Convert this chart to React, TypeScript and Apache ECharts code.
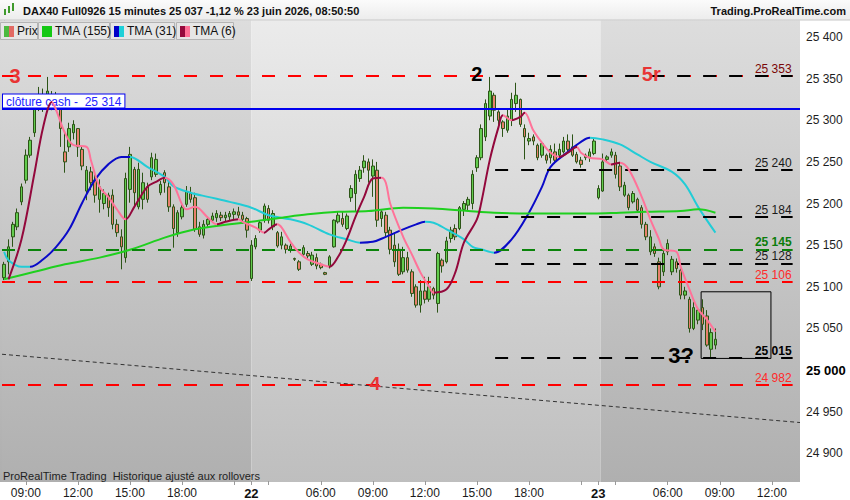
import React, { useEffect, useRef } from "react";
import * as echarts from "echarts";

const FONT = "Liberation Sans, Arial, Helvetica, sans-serif";

// trading sessions (15 minute bars)
const sessions = [
  { day: "19", start: "07:45", bars: 57 },
  { day: "22", start: "02:00", bars: 80 },
  { day: "23", start: "02:00", bars: 47 },
];
const labelTimes = ["09:00", "12:00", "15:00", "18:00", "06:00"];
const tickTimes = ["03:00", "06:00", "09:00", "12:00", "15:00", "18:00", "21:00"];

// [open, high, low, close]
const day19Candles = [
  [25111, 25130, 25108, 25127], [25130, 25157, 25115, 25148], [25160, 25178, 25148, 25175],
  [25172, 25194, 25168, 25189], [25202, 25224, 25198, 25220], [25228, 25265, 25224, 25258],
  [25258, 25280, 25255, 25276], [25285, 25324, 25280, 25318], [25315, 25340, 25311, 25330],
  [25330, 25338, 25310, 25318], [25318, 25352, 25315, 25335], [25330, 25335, 25312, 25318],
  [25318, 25334, 25312, 25328], [25320, 25325, 25268, 25290], [25262, 25285, 25237, 25250],
  [25268, 25297, 25262, 25290], [25285, 25300, 25277, 25295], [25290, 25290, 25256, 25268],
  [25265, 25268, 25240, 25245], [25215, 25245, 25204, 25240], [25238, 25244, 25216, 25225],
  [25228, 25237, 25201, 25210], [25205, 25229, 25189, 25220], [25200, 25217, 25193, 25212],
  [25210, 25213, 25184, 25195], [25210, 25217, 25169, 25175], [25175, 25181, 25160, 25165],
  [25160, 25169, 25121, 25148], [25135, 25237, 25129, 25230], [25217, 25268, 25201, 25259],
  [25241, 25244, 25196, 25213], [25196, 25249, 25193, 25241], [25205, 25237, 25193, 25225],
  [25220, 25225, 25201, 25205], [25232, 25261, 25228, 25255], [25235, 25260, 25232, 25253],
  [25213, 25227, 25210, 25223], [25237, 25240, 25213, 25225], [25220, 25228, 25190, 25196],
  [25196, 25199, 25147, 25170], [25165, 25192, 25160, 25189], [25184, 25198, 25181, 25195],
  [25199, 25221, 25196, 25214], [25212, 25220, 25201, 25205], [25207, 25213, 25166, 25169],
  [25172, 25178, 25160, 25163], [25162, 25180, 25158, 25175], [25175, 25184, 25172, 25181],
  [25180, 25189, 25177, 25185], [25183, 25192, 25178, 25188], [25186, 25190, 25179, 25183],
  [25183, 25190, 25179, 25186], [25184, 25191, 25180, 25188], [25187, 25194, 25180, 25190],
  [25190, 25196, 25182, 25186], [25186, 25190, 25176, 25181], [25182, 25184, 25159, 25168],
];

const day22Candles = [
  [25110, 25156, 25107, 25150], [25148, 25162, 25145, 25158], [25168, 25180, 25165, 25177],
  [25180, 25200, 25177, 25197], [25194, 25198, 25176, 25180], [25172, 25192, 25168, 25188],
  [25165, 25167, 25147, 25149], [25150, 25166, 25145, 25160], [25150, 25152, 25140, 25145],
  [25145, 25152, 25141, 25149], [25134, 25135, 25131, 25133], [25130, 25132, 25119, 25121],
  [25139, 25150, 25137, 25147], [25140, 25143, 25133, 25137], [25127, 25142, 25125, 25138],
  [25135, 25140, 25121, 25125], [25127, 25129, 25121, 25123], [25117, 25118, 25114, 25115],
  [25124, 25138, 25122, 25136], [25148, 25181, 25147, 25180], [25178, 25190, 25176, 25186],
  [25182, 25190, 25172, 25175], [25170, 25188, 25168, 25185], [25207, 25222, 25202, 25218],
  [25212, 25240, 25190, 25235], [25230, 25245, 25226, 25240], [25243, 25258, 25237, 25251],
  [25250, 25254, 25225, 25240], [25233, 25253, 25208, 25245], [25240, 25250, 25172, 25180],
  [25182, 25192, 25172, 25190], [25186, 25190, 25160, 25165], [25168, 25172, 25139, 25145],
  [25150, 25165, 25124, 25130], [25145, 25152, 25113, 25115], [25118, 25148, 25115, 25135],
  [25135, 25142, 25117, 25120], [25118, 25121, 25088, 25092], [25100, 25103, 25075, 25078],
  [25078, 25108, 25069, 25095], [25095, 25112, 25080, 25085], [25085, 25112, 25082, 25100],
  [25098, 25100, 25085, 25090], [25080, 25142, 25069, 25140], [25132, 25134, 25117, 25125],
  [25130, 25160, 25128, 25155], [25158, 25172, 25153, 25168], [25170, 25175, 25156, 25160],
  [25170, 25197, 25168, 25195], [25193, 25203, 25185, 25200], [25198, 25208, 25192, 25205],
  [25200, 25240, 25193, 25235], [25243, 25258, 25238, 25255], [25255, 25295, 25252, 25290],
  [25280, 25325, 25275, 25320], [25305, 25352, 25300, 25335], [25330, 25333, 25298, 25312],
  [25310, 25312, 25292, 25300], [25298, 25300, 25280, 25290], [25288, 25313, 25285, 25305],
  [25300, 25333, 25293, 25325], [25320, 25345, 25310, 25330], [25325, 25326, 25292, 25295],
  [25290, 25295, 25253, 25280], [25275, 25285, 25270, 25278], [25280, 25283, 25270, 25275],
  [25270, 25272, 25252, 25255], [25258, 25275, 25255, 25272], [25258, 25260, 25248, 25252],
  [25255, 25270, 25248, 25265], [25262, 25272, 25248, 25252], [25258, 25272, 25255, 25265],
  [25262, 25280, 25260, 25275], [25275, 25283, 25263, 25265], [25268, 25283, 25256, 25258],
  [25259, 25262, 25248, 25250], [25252, 25256, 25243, 25247], [25255, 25260, 25252, 25258],
  [25255, 25266, 25250, 25262], [25260, 25278, 25258, 25275],
];

const day23Candles = [
  [25207, 25222, 25205, 25218], [25215, 25260, 25214, 25250], [25253, 25258, 25250, 25256],
  [25258, 25266, 25255, 25262], [25258, 25262, 25230, 25235], [25245, 25250, 25215, 25220],
  [25210, 25226, 25208, 25222], [25210, 25212, 25192, 25195], [25202, 25215, 25200, 25212],
  [25205, 25207, 25190, 25192], [25195, 25198, 25170, 25175], [25175, 25178, 25156, 25160],
  [25142, 25168, 25138, 25160], [25148, 25152, 25136, 25140], [25130, 25135, 25097, 25100],
  [25118, 25146, 25113, 25140], [25142, 25157, 25138, 25152], [25118, 25137, 25114, 25133],
  [25130, 25134, 25117, 25122], [25120, 25122, 25085, 25090], [25090, 25100, 25085, 25095],
  [25085, 25088, 25045, 25050], [25050, 25082, 25048, 25075], [25060, 25075, 25055, 25072],
  [25075, 25085, 25048, 25055], [25065, 25072, 25028, 25030], [25025, 25050, 25015, 25045],
  [25030, 25050, 25025, 25037],
];

// moving averages: [bar index, value]
const tma155 = [
  [0, 25109], [7, 25118], [14, 25127], [22, 25135], [30, 25146], [37, 25159], [44, 25169],
  [52, 25175], [57, 25178], [64, 25183], [70, 25187], [77, 25190], [84, 25191], [92, 25195],
  [99, 25194], [107, 25191], [113, 25189], [121, 25188], [128, 25188], [136, 25188],
  [142, 25189], [148, 25190], [156, 25191], [160, 25193], [164, 25189],
];
const tma31 = [
  [0, 25142], [1, 25132], [4, 25124], [6, 25124], [9, 25133], [12, 25148], [15, 25169],
  [18, 25201], [21, 25229], [24, 25247], [27, 25256], [29, 25256], [33, 25244], [37, 25232],
  [39, 25221], [43, 25213], [47, 25208], [52, 25202], [57, 25195], [61, 25186], [66, 25181],
  [70, 25175], [75, 25163], [79, 25157], [82, 25153], [85, 25154], [88, 25160], [92, 25169],
  [95, 25175], [97, 25178], [99, 25177], [102, 25169], [106, 25157], [108, 25148],
  [110, 25145], [113, 25141], [117, 25157], [121, 25189], [124, 25220], [126, 25244],
  [130, 25262], [133, 25274], [135, 25279], [138, 25277], [142, 25271], [146, 25259],
  [149, 25250], [154, 25238], [157, 25223], [160, 25196], [164, 25165],
];
const tma6 = [
  [1, 25109], [4, 25157], [7, 25237], [9, 25292], [11, 25322], [12, 25312], [14, 25285],
  [16, 25270], [19, 25268], [20, 25252], [22, 25220], [24, 25208], [26, 25193], [28, 25181],
  [30, 25196], [33, 25220], [35, 25226], [37, 25231], [39, 25223], [41, 25199], [42, 25193],
  [44, 25196], [47, 25183], [49, 25175], [51, 25178], [54, 25181], [55, 25178], [58, 25171],
  [60, 25165], [61, 25169], [63, 25175], [64, 25171], [66, 25154], [68, 25141], [70, 25133],
  [73, 25127], [75, 25124], [77, 25136], [79, 25157], [81, 25184], [83, 25208], [85, 25230],
  [87, 25231], [88, 25225], [89, 25200], [92, 25160], [94, 25139], [96, 25117], [98, 25100],
  [99, 25093], [102, 25097], [104, 25117], [106, 25153], [109, 25181], [110, 25201],
  [112, 25253], [114, 25292], [115, 25306], [117, 25300], [119, 25304], [120, 25309],
  [122, 25288], [124, 25273], [126, 25261], [128, 25256], [130, 25261], [132, 25268],
  [133, 25261], [135, 25255], [138, 25253], [140, 25247], [142, 25249], [144, 25241],
  [147, 25208], [149, 25181], [151, 25157], [152, 25145], [155, 25142], [156, 25124],
  [158, 25097], [160, 25073], [162, 25061], [164, 25046],
];
const tma31Rising = [[6, 29], [82, 97], [113, 135]];
const tma6Rising = [
  [0, 11], [28, 37], [49, 54], [60, 63], [75, 87], [99, 115], [117, 120], [128, 132], [140, 142],
];

// horizontal levels
const redLevels = [25353, 25106, 24982];
const blackLevels = [25353, 25240, 25184, 25128, 25015];
const greenLevels = [25145];
const cashClose = 25314;
const lastPrice = 25037;
const trendline = [[-0.5, 25019], [183.5, 24937]];
const box = [[160.7, 25094], [176.8, 25014]];
const annotations = [
  { text: "3", at: [2.5, 25353], color: "#e83434", size: 20 },
  { text: "2", at: [109, 25356], color: "#000000", size: 20 },
  { text: "5r", at: [149.2, 25356], color: "#e83434", size: 20 },
  { text: "4", at: [85.5, 24984], color: "#e83434", size: 19 },
  { text: "3?", at: [156.1, 25017], color: "#000000", size: 22 },
];

const pad = (n: number) => String(n).padStart(2, "0");
const fmtPrice = (v: number) => {
  const s = String(Math.round(v));
  return s.slice(0, s.length - 3) + " " + s.slice(-3);
};

const categories: string[] = [];
sessions.forEach((s) => {
  let [h, m] = s.start.split(":").map(Number);
  for (let k = 0; k < s.bars; k++) {
    categories.push(`${s.day} ${pad(h)}:${pad(m)}`);
    m += 15;
    if (m === 60) {
      m = 0;
      h += 1;
    }
  }
});

const dayOf = (c: string) => c.split(" ")[0];
const timeOf = (c: string) => c.split(" ")[1];

const candleData = [...day19Candles, ...day22Candles, ...day23Candles].map(
  ([o, h, l, c]) => [o, c, l, h]
);

const App: React.FC = () => {
  const chartRef = useRef<HTMLDivElement | null>(null);

  useEffect(() => {
    if (!chartRef.current) return;
    const chart = echarts.init(chartRef.current, undefined, { renderer: "svg" });

    const darkBand = new echarts.graphic.LinearGradient(0, 0, 0, 1, [
      { offset: 0, color: "#dddddd" },
      { offset: 1, color: "#aeaeae" },
    ]);
    const lightBand = new echarts.graphic.LinearGradient(0, 0, 0, 1, [
      { offset: 0, color: "#ebebeb" },
      { offset: 1, color: "#bdbdbd" },
    ]);

    // day boundaries on the hidden value axis (shading switches at the first bar's centre)
    let acc = -0.5;
    const bands = sessions.map((s, i) => {
      const from = i === 0 ? -0.5 : acc;
      acc += s.bars;
      const to = i === sessions.length - 1 ? 183.5 : acc + 0.5;
      acc = to;
      return [
        { xAxis: from, itemStyle: { color: i === 1 ? lightBand : darkBand } },
        { xAxis: to },
      ];
    });

    const lineEnd = 181.8;
    const blackStart = 113.2;
    const levelLine = (
      value: number,
      from: number,
      color: string,
      label?: { color: string; bold?: boolean }
    ) => [
      {
        coord: [from, value],
        lineStyle: { color, type: [13, 13], width: 2 },
        label: label
          ? {
              show: true,
              position: "insideEndTop",
              distance: 1,
              formatter: fmtPrice(value),
              color: label.color,
              fontWeight: label.bold ? "bold" : "normal",
              fontSize: 12,
              fontFamily: FONT,
            }
          : { show: false },
      },
      { coord: [lineEnd, value] },
    ];

    const levelData: any[] = [
      ...redLevels.map((v) =>
        levelLine(v, -0.5, "#ff0000", v === 25353 ? undefined : { color: "#ff2a2a" })
      ),
      ...greenLevels.map((v) => levelLine(v, -0.5, "#0b840b", { color: "#0b7d0b", bold: true })),
      ...blackLevels.map((v) =>
        levelLine(
          v,
          blackStart,
          "#000000",
          v === 25353
            ? { color: "#7a0606" }
            : v === 25015
            ? { color: "#000000", bold: true }
            : { color: "#1a1a1a" }
        )
      ),
      [
        {
          coord: [-0.5, cashClose],
          lineStyle: { color: "#0000ee", type: "solid", width: 2 },
          label: {
            show: true,
            position: "insideStartTop",
            distance: 1,
            formatter: `clôture cash -  ${fmtPrice(cashClose)}`,
            color: "#2323ff",
            fontSize: 12,
            fontFamily: FONT,
            backgroundColor: "#ffffff",
            borderColor: "#0000ee",
            borderWidth: 1,
            padding: [1, 3, 0, 3],
          },
        },
        { coord: [183.5, cashClose] },
      ],
      [
        {
          coord: trendline[0],
          lineStyle: { color: "#333333", type: [4, 3], width: 1 },
          label: { show: false },
        },
        { coord: trendline[1] },
      ],
      {
        yAxis: lastPrice,
        lineStyle: { opacity: 0, width: 0 },
        label: {
          show: true,
          position: "end",
          distance: 3,
          formatter: fmtPrice(lastPrice),
          color: "#111111",
          fontSize: 12,
          lineHeight: 13,
          fontFamily: FONT,
          backgroundColor: "#f6c510",
          borderColor: "#9a9a9a",
          borderWidth: 1,
          padding: [1, 3, 0, 3],
        },
      },
    ];

    const legendItems = [
      { x: 0, w: 37, text: "Prix", c1: "#4cba3f", c2: "#e26a64" },
      { x: 38, w: 71, text: "TMA (155)", c1: "#14c814", c2: "#14c814" },
      { x: 110, w: 64, text: "TMA (31)", c1: "#0000c8", c2: "#1fd0d8" },
      { x: 176, w: 57, text: "TMA (6)", c1: "#95093c", c2: "#ff6f96" },
    ];

    const graphic: any[] = [
      {
        type: "rect",
        shape: { x: 0, y: 0, width: 850, height: 20 },
        style: {
          fill: new echarts.graphic.LinearGradient(0, 0, 0, 1, [
            { offset: 0, color: "#fbfbfb" },
            { offset: 1, color: "#ececec" },
          ]),
        },
        z: 20,
      },
      {
        type: "line",
        shape: { x1: 0, y1: 20, x2: 850, y2: 20 },
        style: { stroke: "#c8c8c8", lineWidth: 1 },
        z: 21,
      },
      // small candle icon
      { type: "rect", shape: { x: 4, y: 9, width: 2, height: 6 }, style: { fill: "#3f9a2c" }, z: 21 },
      { type: "rect", shape: { x: 8, y: 6, width: 2, height: 7 }, style: { fill: "#3f9a2c" }, z: 21 },
      { type: "rect", shape: { x: 12, y: 3, width: 2, height: 8 }, style: { fill: "#3f9a2c" }, z: 21 },
      {
        type: "text",
        x: 23,
        y: 11,
        style: {
          text: "DAX40 Full0926 15 minutes 25 037 -1,12 % 23 juin 2026, 08:50:50",
          font: `bold 11px ${FONT}`,
          fill: "#111111",
          textVerticalAlign: "middle",
        },
        z: 21,
      },
      {
        type: "text",
        x: 846,
        y: 11,
        style: {
          text: "Trading.ProRealTime.com",
          font: `bold 11px ${FONT}`,
          fill: "#111111",
          textAlign: "right",
          textVerticalAlign: "middle",
        },
        z: 21,
      },
      {
        type: "rect",
        shape: { x: 0, y: 482, width: 850, height: 18 },
        style: { fill: "#ffffff" },
        z: 20,
      },
      {
        type: "rect",
        shape: { x: 0, y: 20, width: 2, height: 462 },
        style: { fill: darkBand },
        z: 0,
      },
      {
        type: "text",
        x: 3,
        y: 476,
        style: {
          text: "ProRealTime Trading  Historique ajusté aux rollovers",
          font: `11px ${FONT}`,
          fill: "#1e1e1e",
          textVerticalAlign: "middle",
        },
        z: 21,
      },
      ...legendItems.flatMap((it) => [
        {
          type: "rect",
          shape: { x: it.x + 0.5, y: 22.5, width: it.w, height: 17 },
          style: { fill: "#e6e6e6", stroke: "#b4b4b4", lineWidth: 1 },
          z: 21,
        },
        {
          type: "rect",
          shape: { x: it.x + 4, y: 26, width: 5, height: 11 },
          style: { fill: it.c1 },
          z: 22,
        },
        {
          type: "rect",
          shape: { x: it.x + 9, y: 26, width: 5, height: 11 },
          style: { fill: it.c2 },
          z: 22,
        },
        {
          type: "text",
          x: it.x + 17,
          y: 31,
          style: {
            text: it.text,
            font: `12px ${FONT}`,
            fill: "#111111",
            textVerticalAlign: "middle",
          },
          z: 22,
        },
      ]),
    ];

    const options: any = {
      animation: false,
      backgroundColor: "#ffffff",
      textStyle: { fontFamily: FONT },
      grid: { left: 2, right: 50, top: 20.3, bottom: 4.3 },
      xAxis: [
        {
          type: "category",
          data: categories,
          offset: -14,
          z: 30,
          axisLine: { show: false },
          axisTick: {
            show: true,
            length: 4,
            alignWithLabel: true,
            lineStyle: { color: "#9a9a9a" },
            interval: (i: number, v: string) =>
              tickTimes.includes(timeOf(v)) || (timeOf(v) === "02:00" && i > 0),
          },
          axisLabel: {
            margin: 6,
            color: "#1a1a1a",
            fontSize: 12,
            fontFamily: FONT,
            interval: (i: number, v: string) =>
              labelTimes.includes(timeOf(v)) || timeOf(v) === "02:00",
            formatter: (v: string) =>
              timeOf(v) === "02:00" ? `{d|${dayOf(v)}}` : timeOf(v),
            rich: {
              d: { fontWeight: "bold", fontSize: 13, color: "#111111", fontFamily: FONT },
            },
          },
          splitLine: { show: false },
        },
        {
          type: "value",
          min: -0.5,
          max: 183.5,
          show: false,
          splitLine: { show: false },
        },
      ],
      yAxis: {
        type: "value",
        position: "right",
        min: 24850,
        max: 25420,
        interval: 50,
        splitLine: { show: false },
        axisLine: { show: true, lineStyle: { color: "#a8a8a8" } },
        axisTick: { show: true, length: 4, lineStyle: { color: "#9a9a9a" } },
        axisLabel: {
          margin: 6,
          color: "#1e1e1e",
          fontSize: 12,
          fontFamily: FONT,
          showMinLabel: false,
          showMaxLabel: false,
          formatter: (v: number) =>
            v === 25000 ? `{b|${fmtPrice(v)}}` : fmtPrice(v),
          rich: { b: { fontWeight: "bold", fontSize: 13, color: "#000000", fontFamily: FONT } },
        },
      },
      visualMap: [
        {
          show: false,
          type: "piecewise",
          seriesIndex: 3,
          dimension: 0,
          pieces: tma31Rising.map(([a, b]) => ({ gte: a, lte: b, color: "#0a0ac8" })),
          outOfRange: { color: "#22ccd6" },
        },
        {
          show: false,
          type: "piecewise",
          seriesIndex: 4,
          dimension: 0,
          pieces: tma6Rising.map(([a, b]) => ({ gte: a, lte: b, color: "#93083c" })),
          outOfRange: { color: "#ff7399" },
        },
      ],
      series: [
        {
          name: "bands",
          type: "line",
          xAxisIndex: 1,
          data: [],
          z: 0,
          silent: true,
          markArea: { silent: true, data: bands },
        },
        {
          name: "levels",
          type: "line",
          xAxisIndex: 1,
          data: [],
          z: 1,
          silent: true,
          markLine: {
            silent: true,
            symbol: ["none", "none"],
            precision: 0,
            data: levelData,
          },
          markArea: {
            silent: true,
            itemStyle: { color: "rgba(0,0,0,0)", borderColor: "#000000", borderWidth: 1 },
            data: [[{ coord: box[0] }, { coord: box[1] }]],
          },
        },
        {
          name: "Prix",
          type: "candlestick",
          xAxisIndex: 0,
          data: candleData,
          barWidth: 3,
          z: 3,
          itemStyle: {
            color: "#62cc4e",
            color0: "#e8806c",
            borderColor: "#2c5417",
            borderColor0: "#2c5417",
            borderWidth: 1,
          },
        },
        {
          name: "TMA (31)",
          type: "line",
          xAxisIndex: 0,
          data: tma31,
          smooth: 0.35,
          showSymbol: false,
          symbol: "none",
          z: 4,
          lineStyle: { width: 2 },
        },
        {
          name: "TMA (6)",
          type: "line",
          xAxisIndex: 0,
          data: tma6,
          smooth: 0.35,
          showSymbol: false,
          symbol: "none",
          z: 5,
          lineStyle: { width: 2 },
        },
        {
          name: "TMA (155)",
          type: "line",
          xAxisIndex: 0,
          data: tma155,
          smooth: 0.35,
          showSymbol: false,
          symbol: "none",
          z: 4,
          lineStyle: { width: 2, color: "#1fd01f" },
        },
        {
          name: "annotations",
          type: "scatter",
          xAxisIndex: 1,
          symbolSize: 0,
          z: 6,
          silent: true,
          itemStyle: { opacity: 1 },
          data: annotations.map((a) => ({
            value: a.at,
            label: {
              show: true,
              position: "inside",
              formatter: a.text,
              color: a.color,
              fontSize: a.size,
              fontWeight: "bold",
              fontFamily: FONT,
            },
          })),
        },
      ],
      graphic,
    };

    chart.setOption(options);

    return () => {
      chart.dispose();
    };
  }, []);

  return (
    <div
      ref={chartRef}
      style={{ position: "absolute", left: 0, top: 0, width: "850px", height: "500px" }}
    />
  );
};

export default App;
